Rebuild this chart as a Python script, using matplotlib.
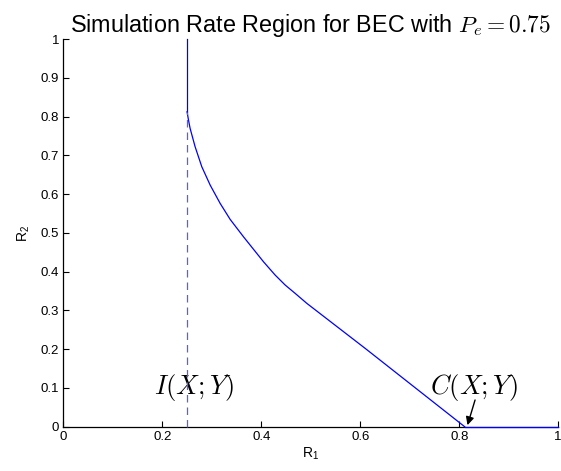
import numpy as np
import matplotlib
matplotlib.use("Agg")
import matplotlib.pyplot as plt

plt.rcParams['font.family'] = ['Liberation Sans', 'DejaVu Sans']
plt.rcParams['mathtext.fontset'] = 'cm'

# values
Pe = 0.75
I_XY = 0.25
C_XY = 0.811
R1_curve = [0.25, 0.2528, 0.2561, 0.2662, 0.2797, 0.2966, 0.3168, 0.3370, 0.3639,
            0.4043, 0.4279, 0.4482, 0.4684, 0.4920, 0.6099, 0.811]
R2_curve = [0.8126, 0.7911, 0.7696, 0.7223, 0.6707, 0.6234, 0.5761, 0.5349, 0.4901,
            0.4257, 0.3913, 0.3655, 0.3440, 0.3182, 0.2021, 0.0]
xticks = [0, 0.2, 0.4, 0.6, 0.8, 1]
yticks = [0, 0.1, 0.2, 0.3, 0.4, 0.5, 0.6, 0.7, 0.8, 0.9, 1]
xtick_labels = ['0', '0.2', '0.4', '0.6', '0.8', '1']
ytick_labels = ['0', '0.1', '0.2', '0.3', '0.4', '0.5', '0.6', '0.7', '0.8', '0.9', '1']

fig = plt.figure(figsize=(5.61, 4.71), dpi=100)
ax = fig.add_axes([0.113, 0.094, 0.882, 0.823])

lw = 0.9
ax.plot(R1_curve, R2_curve, color='b', lw=lw, clip_on=False, zorder=5)
ax.plot([I_XY, I_XY], [R2_curve[0], 1], color='b', lw=lw, clip_on=False, zorder=5)
ax.plot([C_XY, 1], [0, 0], color='b', lw=lw, clip_on=False, zorder=5)
ax.plot([I_XY, I_XY], [0, R2_curve[0]], color='#5a5aff', lw=lw, ls=(0, (6, 4)),
        clip_on=False, zorder=5)

ax.set_xlim(0, 1)
ax.set_ylim(0, 1)
ax.set_xticks(xticks)
ax.set_xticklabels(xtick_labels)
ax.set_yticks(yticks)
ax.set_yticklabels(ytick_labels)
ax.tick_params(direction='in', length=4, width=0.8, labelsize=9.5, pad=3)
ax.spines['top'].set_visible(False)
ax.spines['right'].set_visible(False)
for s in ('left', 'bottom'):
    ax.spines[s].set_linewidth(0.9)

ax.set_title(r'Simulation Rate Region for BEC with $P_e = %.2f$' % Pe, fontsize=16.8, pad=5)
ax.set_xlabel(r'R$_\mathregular{1}$', fontsize=10, labelpad=2)
ax.set_ylabel(r'R$_\mathregular{2}$', fontsize=10, labelpad=6)

ax.text(0.264, 0.10, r'$I(X;Y)$', fontsize=19, ha='center', va='center')
ax.text(0.83, 0.10, r'$C(X;Y)$', fontsize=19, ha='center', va='center')
ax.annotate('', xy=(0.8167, 0.004), xytext=(0.832, 0.069),
            arrowprops=dict(arrowstyle='-|>', color='k', lw=1.0, mutation_scale=12,
                            shrinkA=0, shrinkB=0))

fig.savefig('out.png', dpi=100)
